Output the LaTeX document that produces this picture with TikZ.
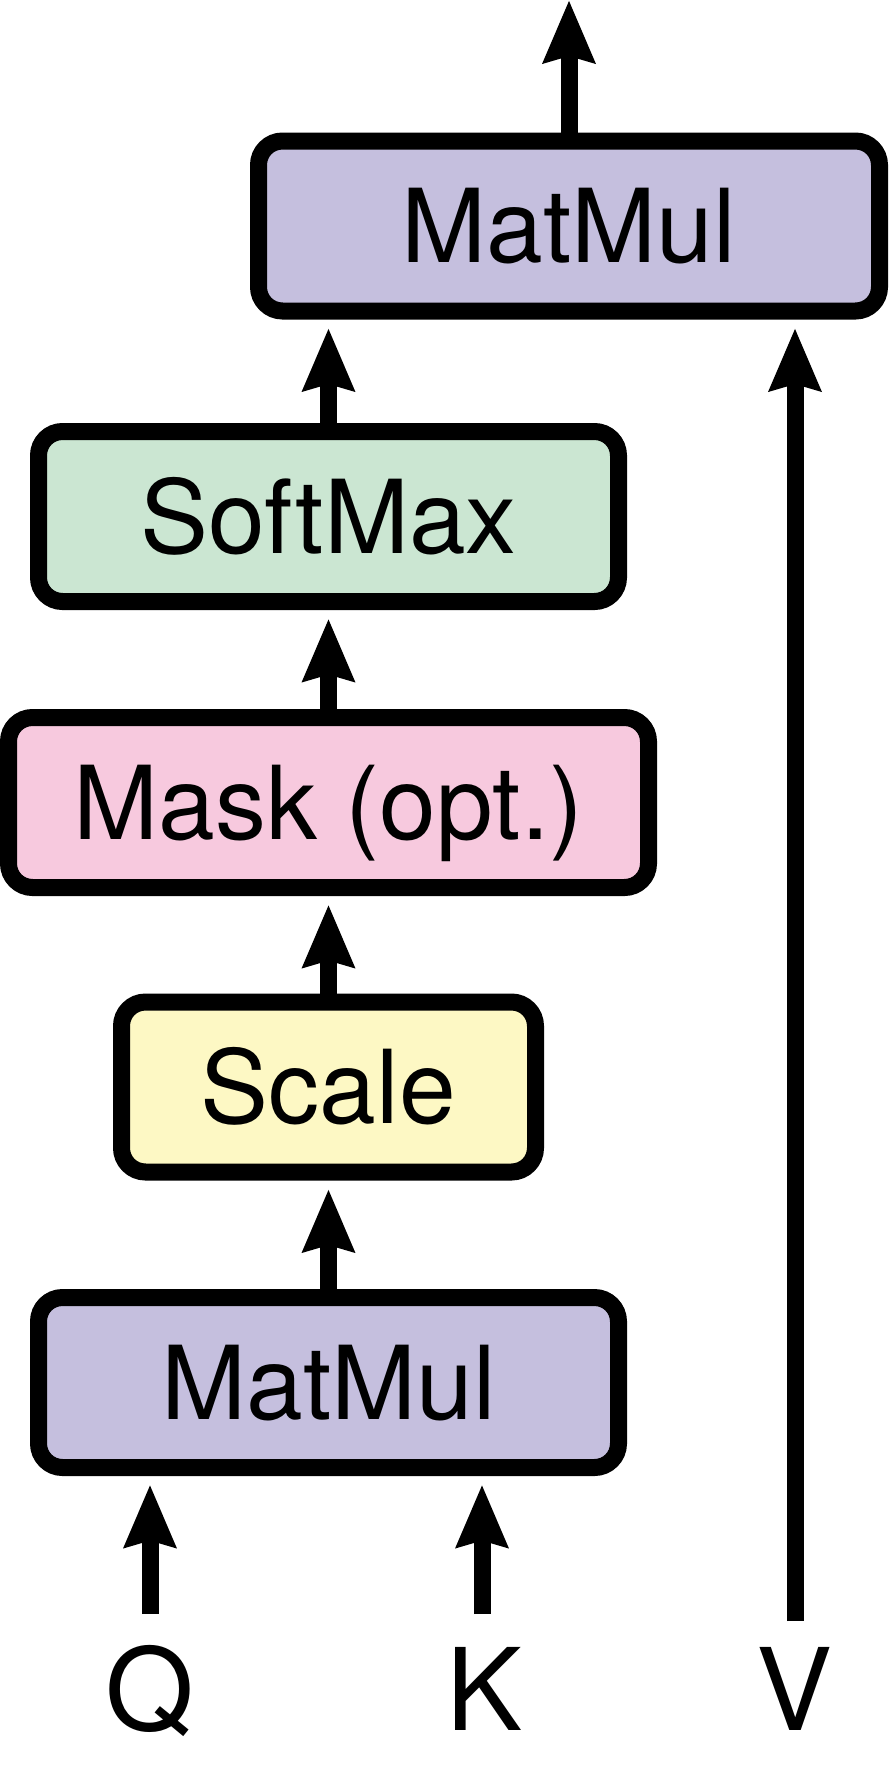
\documentclass[tikz,border=0pt]{standalone}
\usepackage{fontspec}
\setmainfont{TeX Gyre Heros}
\usetikzlibrary{arrows.meta}

\definecolor{matmulpurple}{RGB}{197,191,222}
\definecolor{softmaxgreen}{RGB}{203,230,210}
\definecolor{maskpink}{RGB}{247,201,222}
\definecolor{scaleyellow}{RGB}{253,248,196}

\begin{document}
\begin{tikzpicture}[x=.5pt, y=-.5pt,
  box/.style={draw=black, line width=8.5pt, rounded corners=12pt, minimum height=85pt, inner sep=0pt, font=\fontsize{51}{51}\selectfont, text height=36.6pt, text depth=0pt},
  arr/.style={line width=8.5pt, -{Stealth[length=31pt, width=25pt, inset=3pt]}, shorten >=4.25pt},
  letter/.style={anchor=base, inner sep=0pt, font=\fontsize{57}{57}\selectfont}]

\useasboundingbox (0,0) rectangle (890,1768);

\node [box, fill=matmulpurple, minimum width=310.5pt] (mm2) at (569,226) {MatMul};
\node [box, fill=softmaxgreen, minimum width=290pt] (softmax) at (328.5,516.5) {SoftMax};
\node [box, fill=maskpink, minimum width=320pt] (mask) at (328.5,802.5) {Mask (opt.)};
\node [box, fill=scaleyellow, minimum width=207pt] (scale) at (328.5,1087) {Scale};
\node [box, fill=matmulpurple, minimum width=290pt] (mm1) at (328.5,1382.5) {MatMul};

\node [letter] (Q) at (150,1730) {Q};
\node [letter] (K) at (485,1730) {K};
\node [letter] (V) at (795,1730) {V};

\coordinate (qin) at (150,1614);
\coordinate (kin) at (482,1614);
\coordinate (vin) at (795,1621);
\coordinate (out) at (569,0);

\draw [arr] (qin) -- (qin |- mm1.south);
\draw [arr] (kin) -- (kin |- mm1.south);
\draw [arr] (mm1) -- (scale);
\draw [arr] (scale) -- (mask);
\draw [arr] (mask) -- (softmax);
\draw [arr] (softmax.north) -- (softmax.north |- mm2.south);
\draw [arr] (vin) -- (vin |- mm2.south);
\draw [arr, shorten >=0pt] (mm2) -- (out);

\end{tikzpicture}
\end{document}
